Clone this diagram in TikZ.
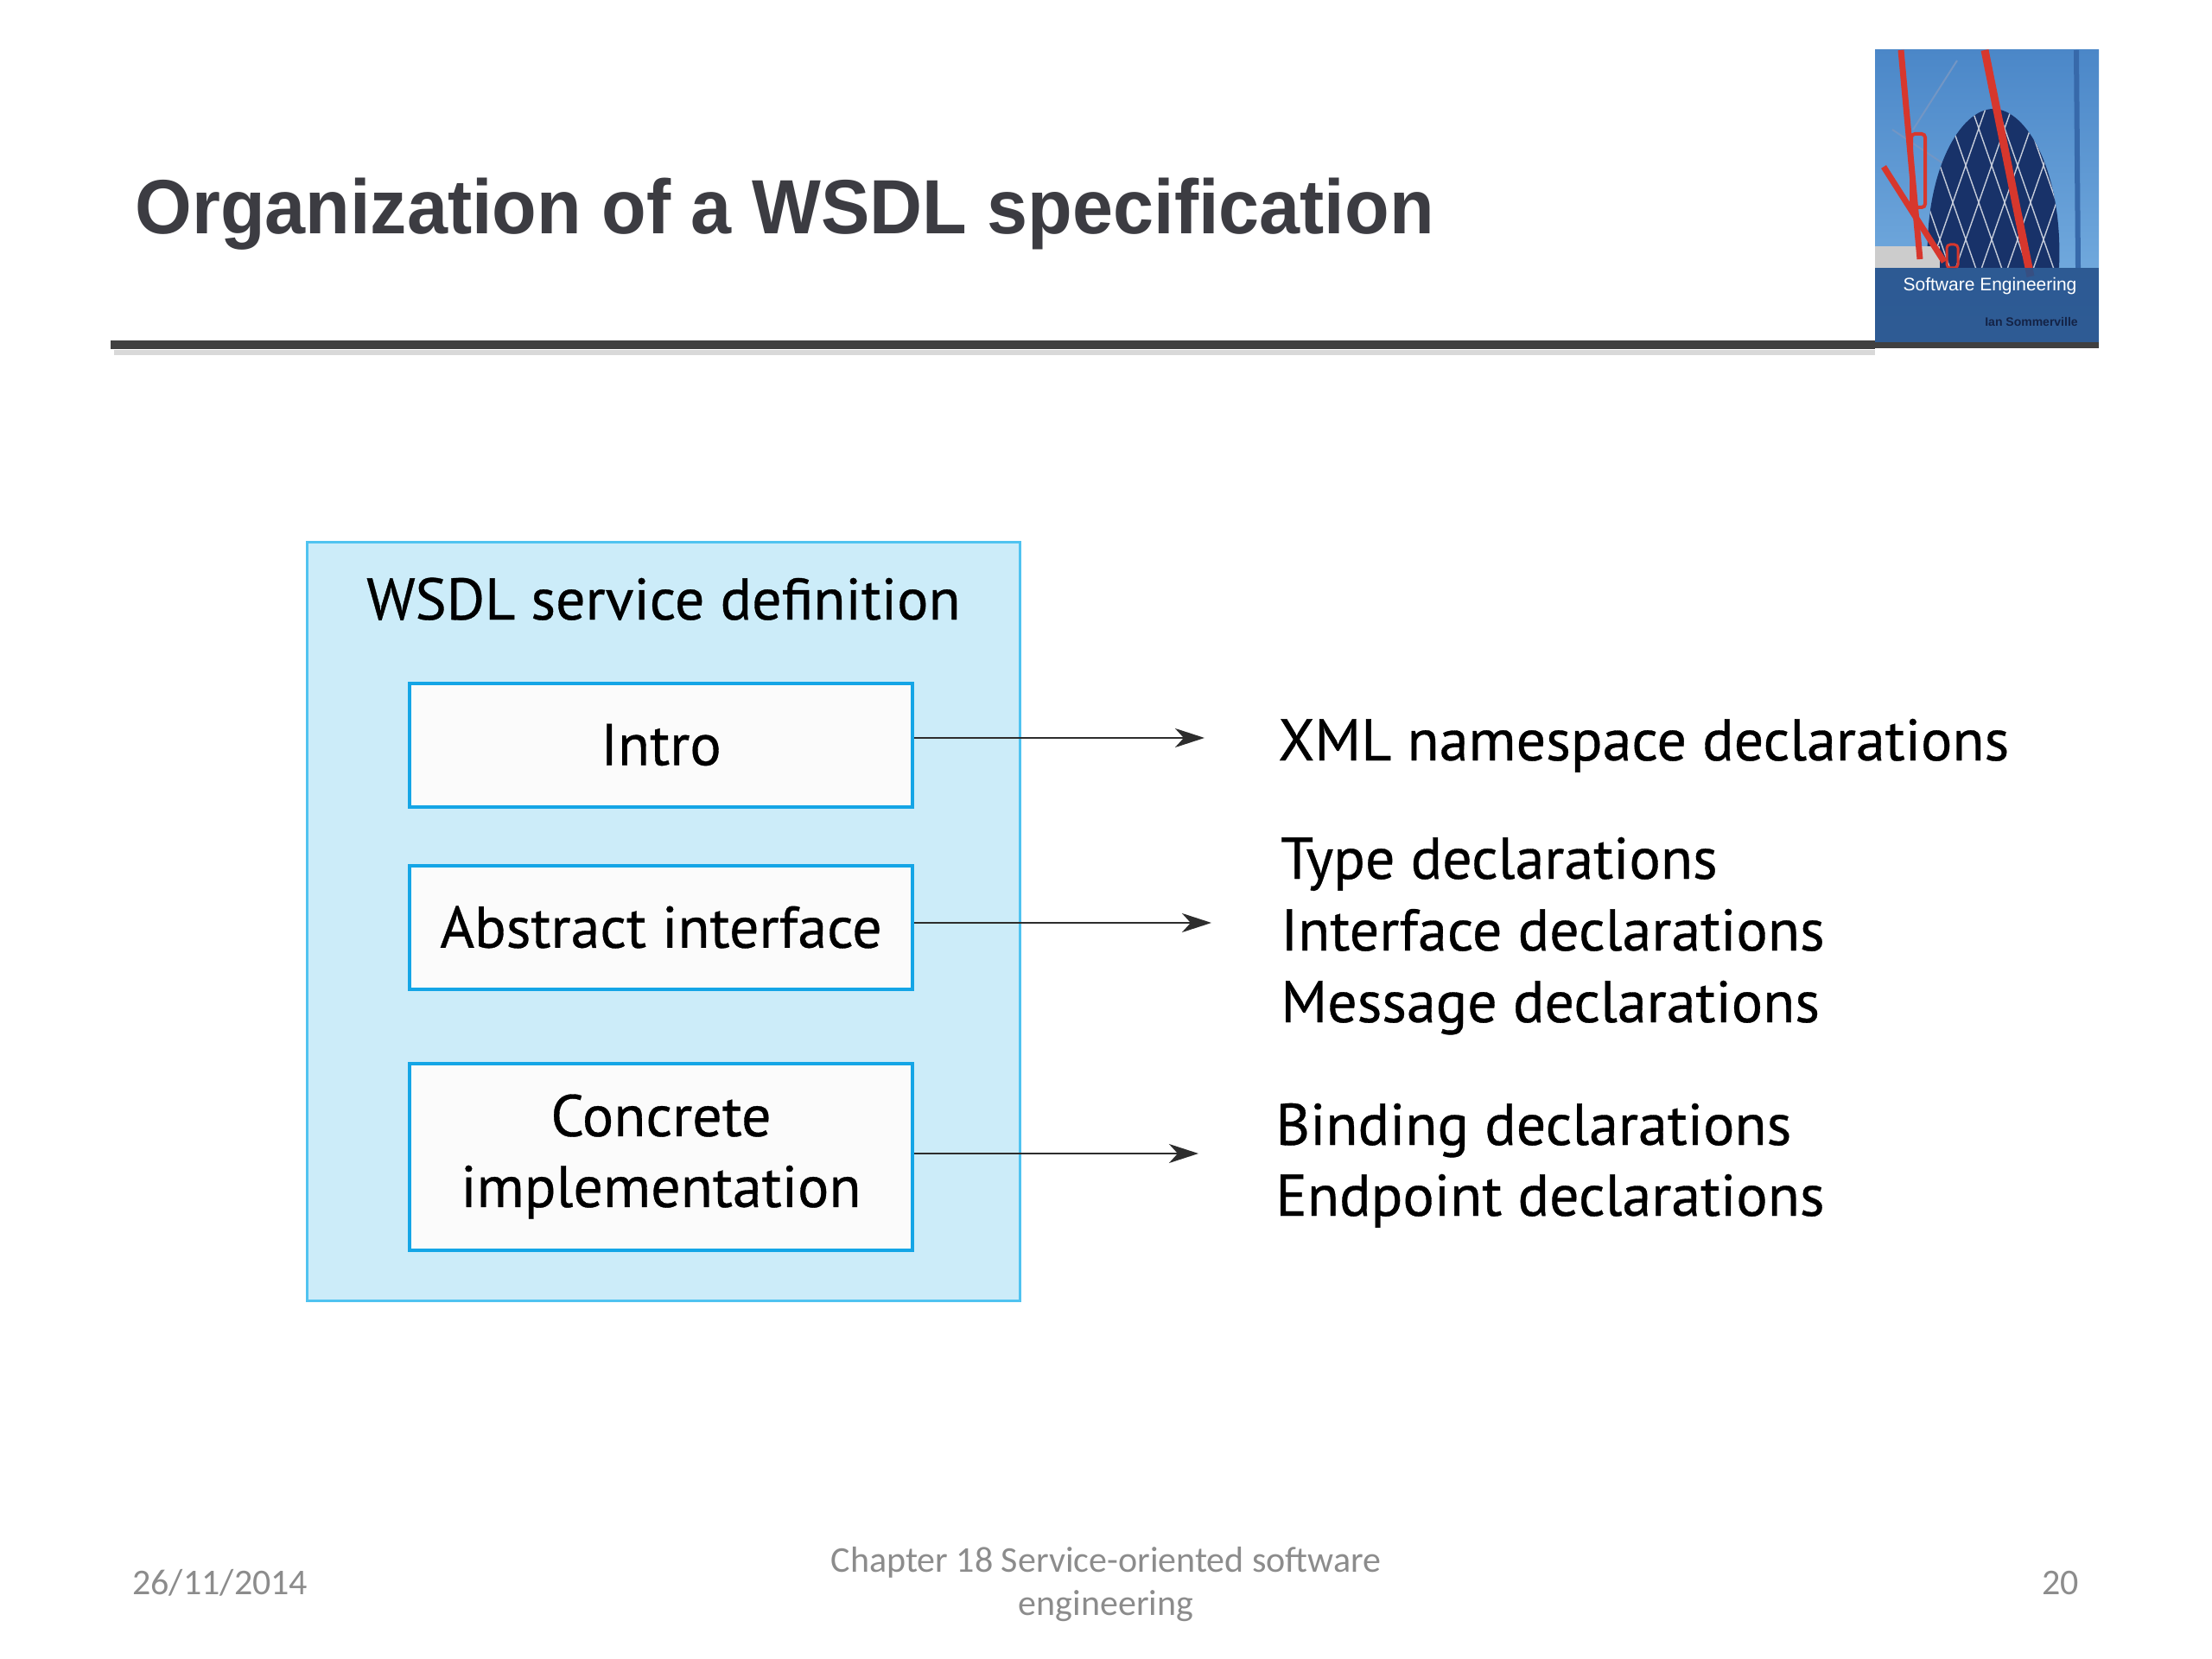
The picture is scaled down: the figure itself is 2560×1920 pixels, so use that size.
\documentclass[tikz,border=0pt]{standalone}
\usepackage{fontspec}
\setmainfont[FakeBold=0.5]{PT Sans}
\newfontfamily\titlefont[FakeStretch=0.95]{Liberation Sans}
\newfontfamily\footfont{Carlito}
\newfontfamily\coverfont{Liberation Sans}
\usetikzlibrary{positioning,arrows.meta}
\definecolor{titlegray}{RGB}{60, 60, 66}
\definecolor{rulegray}{RGB}{64, 64, 64}
\definecolor{footgray}{RGB}{140, 140, 140}
\definecolor{wsdlfill}{RGB}{204, 236, 249}
\definecolor{wsdledge}{RGB}{80, 195, 240}
\definecolor{partedge}{RGB}{20, 165, 230}
\definecolor{partfill}{RGB}{251, 251, 251}
\definecolor{arrowgray}{RGB}{45, 45, 45}
\definecolor{skytop}{RGB}{75, 135, 200}
\definecolor{skybottom}{RGB}{125, 180, 228}
\definecolor{gherkin}{RGB}{24, 50, 105}
\definecolor{cranered}{RGB}{215, 55, 45}
\definecolor{craneblue}{RGB}{55, 105, 170}
\definecolor{bandblue}{RGB}{38, 82, 140}
\definecolor{navy}{RGB}{20, 35, 70}

\begin{document}
\begin{tikzpicture}[x=0.5pt, y=-0.5pt,
    part/.style={draw=partedge, line width=2pt, fill=partfill, minimum width=291pt, minimum height=71.5pt,
                 inner sep=0pt, align=center, font=\fontsize{34}{41}\selectfont},
    decl/.style={anchor=base west, inner sep=0pt, font=\fontsize{34}{41}\selectfont},
    link/.style={draw=arrowgray, line width=1.3pt, -{Stealth[length=17pt, width=11pt, inset=5pt]}},
    foot/.style={text=footgray, inner sep=0pt, font=\footfont\fontsize{21}{25}\selectfont}]
    \useasboundingbox (0,0) rectangle (2560,1920);
    \fill[white] (0,0) rectangle (2560,1920);
    % Slide title & rule
    \node[anchor=base west, inner sep=0pt, text=titlegray, font=\titlefont\bfseries\fontsize{44.5}{50}\selectfont]
        (slidetitle) at (156,271) {Organization of a WSDL specification};
    \draw[gray!30, line width=3pt] (132,408) -- (2170,408);
    \draw[rulegray, line width=5pt] (128,399) -- (2170,399);
    % Book cover
    \shade[top color=skytop, bottom color=skybottom] (2170,58) rectangle (2429,403);
    \draw[craneblue, line width=3pt] (2403,58) -- (2405,310);
    \draw[craneblue!70!white, line width=1pt] (2214,150) -- (2265,70);
    \draw[craneblue!70!white, line width=1pt] (2190,150) -- (2250,190);
    \fill[gherkin] (2231,310) .. controls (2226,200) and (2268,126) .. (2307,126)
                   .. controls (2346,126) and (2388,200) .. (2383,310) -- cycle;
    \begin{scope}
        \clip (2231,310) .. controls (2226,200) and (2268,126) .. (2307,126)
              .. controls (2346,126) and (2388,200) .. (2383,310) -- cycle;
        \foreach \i in {2140,2170,...,2470} {
            \draw[white!75!gherkin, line width=0.7pt] (\i,320) -- ++(70,-200);
            \draw[white!75!gherkin, line width=0.7pt] (\i,320) -- ++(-70,-200);
        }
    \end{scope}
    \fill[gray!40] (2170,285) rectangle (2245,310);
    \draw[cranered, line width=3.5pt] (2200,58) -- (2222,300);
    \draw[cranered, line width=2pt, rounded corners=2pt] (2212,155) rectangle (2228,240);
    \draw[cranered, line width=3.5pt] (2180,193) -- (2250,303);
    \draw[cranered, line width=1.5pt, rounded corners=2pt] (2253,283) rectangle (2266,310);
    \draw[cranered, line width=4.5pt] (2297,58) -- (2350,320);
    \fill[bandblue, opacity=0.9] (2170,310) rectangle (2429,396);
    \node[text=white, inner sep=0pt, font=\coverfont\fontsize{10.5}{12}\selectfont]
        (covertitle) at (2303,331) {Software Engineering};
    \node[text=navy, inner sep=0pt, font=\coverfont\bfseries\fontsize{7}{8}\selectfont]
        (coverauthor) at (2351,372) {Ian Sommerville};
    \fill[rulegray] (2170,396) rectangle (2429,403);
    % WSDL service definition
    \node[draw=wsdledge, line width=1.5pt, fill=wsdlfill, minimum width=412.5pt, minimum height=439pt]
        (wsdl) at (767.5,1066) {};
    \node[anchor=base, inner sep=0pt, font=\fontsize{34}{41}\selectfont]
        (wsdltitle) at (768,717) {WSDL service definition};
    \node[part] (intro) at (765,862) {Intro};
    \node[part, below=32pt of intro] (abstract) {Abstract interface};
    \node[part, below=41pt of abstract, minimum height=108pt] (concrete) {Concrete\\implementation};
    % Declarations
    \node[decl] (xmlns) at (1479,880) {XML namespace declarations};
    \node[decl] (types) at (1482,1017) {Type declarations};
    \node[decl] (ifaces) at (1482,1100) {Interface declarations};
    \node[decl] (msgs) at (1482,1183) {Message declarations};
    \node[decl] (binding) at (1476,1325) {Binding declarations};
    \node[decl] (endpoint) at (1476,1407) {Endpoint declarations};
    % Links
    \coordinate (introtip) at (1394,854);
    \coordinate (abstracttip) at (1402,1068);
    \coordinate (concretetip) at (1387,1335);
    \draw[link] (intro.east |- introtip) -- (introtip);
    \draw[link] (abstract.east |- abstracttip) -- (abstracttip);
    \draw[link] (concrete.east |- concretetip) -- (concretetip);
    % Footer
    \node[foot, anchor=base west] (datefoot) at (153,1845) {26/11/2014};
    \node[foot, align=center] (chapterfoot) at (1280,1834) {Chapter 18 Service-oriented software\\engineering};
    \node[foot, anchor=base east] (pagefoot) at (2406,1845) {20};
\end{tikzpicture}
\end{document}
